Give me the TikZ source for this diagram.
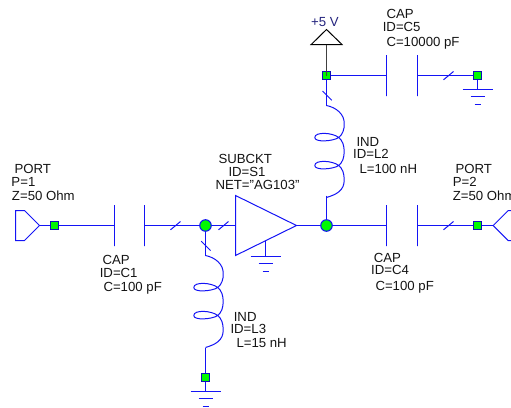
\documentclass[tikz,border=0pt]{standalone}
\usepackage{fontspec}
\setmainfont{Liberation Sans}
\definecolor{wireblue}{RGB}{20,20,245}
\definecolor{pingreen}{RGB}{0,250,0}
\definecolor{textgray}{RGB}{20,20,20}
\definecolor{volt}{RGB}{35,35,125}
\tikzset{
coil/.pic={
\draw[wire] (0,0) .. controls (10,2) and (18,9) .. (17.7,18) .. controls (18,24) and (16,29) .. (12.3,32)
 .. controls (6,36) and (-11.7,37) .. (-11.7,32) .. controls (-11.7,26) and (6,27) .. (12.3,32)
 .. controls (16,35) and (17.7,40) .. (17.7,46) .. controls (17.7,52) and (16,57) .. (12.3,60)
 .. controls (6,64) and (-11.7,65) .. (-11.7,60) .. controls (-11.7,54) and (6,55) .. (12.3,60)
 .. controls (16,63) and (17.7,68) .. (17.7,74) .. controls (18,85) and (10,89) .. (0,92);
},
earth/.pic={
\draw[wire] (-15,0) -- (15,0);
\draw[wire] (-7,7) -- (7,7);
\draw[wire] (-3,15) -- (3,15);
}}
\begin{document}
\begin{tikzpicture}[x=1pt,y=-1pt,inner sep=0pt,outer sep=0pt,
wire/.style={draw=wireblue,line width=1pt},
plate/.style={draw=wireblue,line width=1pt,rectangle,minimum width=0pt,minimum height=41pt},
pinbox/.style={draw=wireblue!75!black,fill=pingreen,line width=1.2pt,rectangle,minimum size=8.5pt},
junct/.style={draw=wireblue,fill=pingreen,line width=1.1pt,circle,minimum size=11.5pt},
lbl/.style={anchor=base west,text=textgray,font=\fontsize{13.2}{13.2}\selectfont}]
\useasboundingbox (-.5,-.5) rectangle (510.5,406.5);
\draw (54,225) node[pinbox] (P1) {};
\draw (114,225) node[plate] (C1a) {};
\draw (144,225) node[plate] (C1b) {};
\draw (205,225) node[junct] (J1) {};
\draw (326,225) node[junct] (J2) {};
\draw (386,225) node[plate] (C4a) {};
\draw (417,225) node[plate] (C4b) {};
\draw (477,225) node[pinbox] (P2) {};
\draw (326,75) node[pinbox] (P3) {};
\draw (386,75) node[plate] (C5a) {};
\draw (417,75) node[plate] (C5b) {};
\draw (477,75) node[pinbox] (P4) {};
\draw (205,377) node[pinbox] (P5) {};

\coordinate (Port1) at (39,225);
\coordinate (Port2) at (492.7,225);
\coordinate (S1in) at (235,225);
\coordinate (S1out) at (296,225);
\coordinate (S1gnd) at (265,240);
\coordinate (Supply) at (326,44);
\coordinate (L2top) at (326,105);
\coordinate (L2bot) at (326,195);
\coordinate (L3top) at (205,255);
\coordinate (L3bot) at (205,347);
\coordinate (G1) at (477,89);
\coordinate (G2) at (265,256);
\coordinate (G3) at (205,391);

% ports, amplifier and supply
\draw[wire] (Port1) -- (24,210) -- (15,210) -- (15,240) -- (24,240) -- cycle;
\draw[wire] (Port2) -- (507.7,210) -- (520,210);
\draw[wire] (Port2) -- (507.7,240) -- (520,240);
\draw[wire] (235,195) -- (235,255) -- (S1out) -- cycle;
\draw[line width=1pt] (326,29) -- (341.5,44) -- (310.7,44) -- cycle;

% connections
\draw[wire] (Port1) -- (P1);
\draw[wire] (P1) -- (C1a);
\draw[wire] (C1b) -- (J1);
\draw[wire] (J1) -- (S1in);
\draw[wire] (S1out) -- (J2);
\draw[wire] (J2) -- (C4a);
\draw[wire] (C4b) -- (P2);
\draw[wire] (P2) -- (Port2);
\draw[wire] (P3) -- (C5a);
\draw[wire] (C5b) -- (P4);
\draw[wire] (P4) -- (G1);
\draw[wire] (S1gnd) -- (G2);
\draw[wire] (P3) -- (L2top);
\draw[wire] (L2bot) -- (J2);
\draw[wire] (J1) -- (L3top);
\draw[wire] (L3bot) -- (P5);
\draw[wire] (P5) -- (G3);
\draw[black!75,line width=1pt] (Supply) -- (P3.center);

\pic at (L2top) {coil};
\pic at (L3top) {coil};
\pic at (G1) {earth};
\pic at (G2) {earth};
\pic at (G3) {earth};

% slashes on the wires
\draw[wire] (170,229.3) -- ++(10,-8.3);
\draw[wire] (218,229.3) -- ++(10,-8.3);
\draw[wire] (443,229.3) -- ++(10,-8.3);
\draw[wire] (443,79.3) -- ++(10,-8.3);
\draw[wire] (200.7,240.7) -- ++(9.3,9.3);
\draw[wire] (322,90.5) -- ++(9.3,9.3);

\draw (14,172.5) node[lbl] (t1) {PORT};
\draw (11,185.5) node[lbl] (t2) {P=1};
\draw (11.5,200) node[lbl] (t3) {Z=50 Ohm};
\draw (218,163) node[lbl] (t4) {SUBCKT};
\draw (228,176) node[lbl] (t5) {ID=S1};
\draw (215,189) node[lbl] (t6) {NET="AG103"};
\draw (102,264) node[lbl] (t7) {CAP};
\draw (99.3,276.7) node[lbl] (t8) {ID=C1};
\draw (103,291) node[lbl] (t9) {C=100 pF};
\draw (310.7,26) node[lbl,text=volt] (t10) {+5 V};
\draw (386,17.7) node[lbl] (t11) {CAP};
\draw (382.3,30.7) node[lbl] (t12) {ID=C5};
\draw (386,45.7) node[lbl] (t13) {C=10000 pF};
\draw (356,145.7) node[lbl] (t14) {IND};
\draw (352.7,157.5) node[lbl] (t15) {ID=L2};
\draw (359,172.7) node[lbl] (t16) {L=100 nH};
\draw (455,172.7) node[lbl] (t17) {PORT};
\draw (452.3,185.7) node[lbl] (t18) {P=2};
\draw (452.3,200) node[lbl] (t19) {Z=50 Ohm};
\draw (373.3,261.7) node[lbl] (t20) {CAP};
\draw (370.7,274) node[lbl] (t21) {ID=C4};
\draw (375,290) node[lbl] (t22) {C=100 pF};
\draw (233.3,320.7) node[lbl] (t23) {IND};
\draw (230,332.7) node[lbl] (t24) {ID=L3};
\draw (236,347) node[lbl] (t25) {L=15 nH};
\end{tikzpicture}
\end{document}
